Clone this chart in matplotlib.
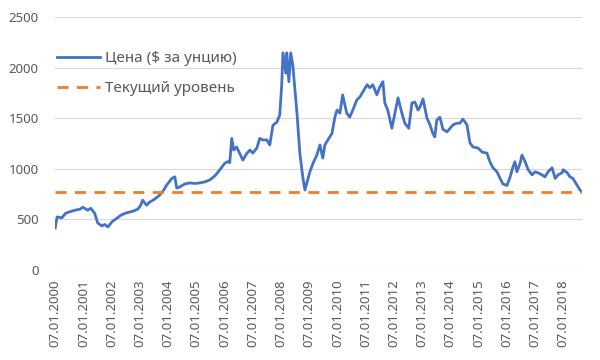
import pandas as pd
import matplotlib
matplotlib.use('Agg')
import matplotlib.pyplot as plt

plt.rcParams['font.family'] = ['Noto Sans', 'DejaVu Sans']

# price readings (approximate)
dates = [
    '2000-01-07', '2000-02-01', '2000-04-01', '2000-05-20', '2000-07-12', '2000-09-15',
    '2000-11-20', '2001-01-01', '2001-03-01', '2001-04-10', '2001-06-01', '2001-07-10',
    '2001-09-01', '2001-10-10', '2001-11-18', '2002-01-10', '2002-03-12', '2002-05-15',
    '2002-07-18', '2002-10-05', '2002-12-10', '2003-01-18', '2003-02-12', '2003-04-03',
    '2003-05-12', '2003-07-18', '2003-09-20', '2003-11-12', '2003-12-20', '2004-02-25',
    '2004-04-03', '2004-04-28', '2004-06-05', '2004-08-10', '2004-10-12', '2004-12-18',
    '2005-02-20', '2005-04-25', '2005-07-01', '2005-09-03', '2005-11-07', '2006-01-10',
    '2006-02-18', '2006-03-15', '2006-04-10', '2006-05-05', '2006-06-12', '2006-07-20',
    '2006-09-01', '2006-10-20', '2006-12-01', '2007-01-07', '2007-03-01', '2007-04-07',
    '2007-05-15', '2007-07-07', '2007-08-15', '2007-09-25', '2007-11-15', '2007-12-22',
    '2008-01-18', '2008-02-01', '2008-03-10', '2008-03-22', '2008-04-18', '2008-05-12',
    '2008-06-08', '2008-08-01', '2008-09-07', '2008-10-15', '2008-11-12', '2008-12-07',
    '2009-01-15', '2009-02-25', '2009-04-15', '2009-05-25', '2009-07-01', '2009-07-28',
    '2009-09-05', '2009-10-28', '2009-12-05', '2010-01-01', '2010-02-08', '2010-03-15',
    '2010-05-07', '2010-06-15', '2010-07-25', '2010-09-15', '2010-10-25', '2010-12-03',
    '2011-01-25', '2011-03-01', '2011-04-10', '2011-06-01', '2011-07-10', '2011-08-18',
    '2011-09-12', '2011-10-20', '2011-12-12', '2012-01-10', '2012-03-01', '2012-04-20',
    '2012-05-28', '2012-07-18', '2012-08-28', '2012-10-05', '2012-11-15', '2012-12-10',
    '2013-01-18', '2013-03-10', '2013-04-18', '2013-05-25', '2013-06-20', '2013-07-15',
    '2013-08-25', '2013-10-03', '2013-11-25', '2014-01-03', '2014-02-12', '2014-04-01',
    '2014-05-10', '2014-06-18', '2014-08-10', '2014-09-18', '2014-10-28', '2015-01-01',
    '2015-02-22', '2015-04-25', '2015-06-03', '2015-07-12', '2015-09-03', '2015-10-10',
    '2015-11-18', '2016-01-10', '2016-02-18', '2016-03-28', '2016-04-22', '2016-05-18',
    '2016-06-28', '2016-07-22', '2016-09-01', '2016-10-10', '2016-12-01', '2017-01-07',
    '2017-02-15', '2017-04-07', '2017-05-15', '2017-06-25', '2017-08-15', '2017-09-25',
    '2017-11-01', '2017-12-22', '2018-01-07', '2018-02-28', '2018-04-05', '2018-05-12',
    '2018-07-03', '2018-08-12', '2018-09-07',
]
price = [
    415, 525, 515, 560, 575, 590,
    600, 620, 590, 610, 560, 465,
    435, 450, 425, 475, 510, 545,
    565, 580, 600, 640, 690, 640,
    670, 700, 740, 790, 840, 905,
    920, 810, 820, 850, 860, 855,
    860, 870, 890, 930, 990, 1055,
    1070, 1060, 1300, 1185, 1215, 1155,
    1085, 1150, 1185, 1155, 1205, 1300,
    1285, 1285, 1235, 1430, 1460, 1530,
    1850, 2145, 1945, 2145, 1860, 2145,
    2025, 1550, 1155, 920, 790, 860,
    970, 1055, 1135, 1235, 1105, 1235,
    1285, 1350, 1510, 1580, 1550, 1730,
    1550, 1510, 1580, 1680, 1710, 1760,
    1830, 1800, 1830, 1730, 1810, 1860,
    1650, 1580, 1400, 1510, 1700, 1550,
    1450, 1400, 1650, 1660, 1580, 1610,
    1690, 1500, 1435, 1350, 1315, 1480,
    1510, 1390, 1365, 1400, 1435, 1450,
    1450, 1490, 1435, 1255, 1215, 1205,
    1165, 1155, 1070, 1010, 970, 910,
    850, 835, 915, 1020, 1070, 970,
    1055, 1135, 1070, 990, 940, 970,
    960, 940, 920, 970, 1010, 905,
    940, 960, 990, 960, 920, 905,
    840, 790, 770,
]
current_level = 775
tick_years = list(range(2000, 2019))

x = pd.to_datetime(dates)
ticks = pd.to_datetime(['%d-01-07' % y for y in tick_years])
tick_labels = ['07.01.%d' % y for y in tick_years]

fig = plt.figure(figsize=(6, 3.6), dpi=100)
ax = fig.add_axes([0.092, 0.25, 0.878, 0.703])

ax.plot(x, price, color='#4472C4', lw=2, label='Цена ($ за унцию)')
ax.axhline(current_level, color='#ED7D31', lw=2, dashes=(4, 3), label='Текущий уровень')

ax.set_xlim(x[0], x[-1])
ax.set_ylim(0, 2500)
ax.set_yticks([0, 500, 1000, 1500, 2000, 2500])
ax.set_xticks(ticks)
ax.set_xticklabels(tick_labels, rotation=90)
ax.tick_params(length=0, colors='#595959', labelsize=9.5)
ax.tick_params(axis='y', pad=12)
ax.tick_params(axis='x', pad=7)
ax.grid(axis='y', color='#d9d9d9', lw=0.8)
ax.set_axisbelow(True)
for s in ax.spines.values():
    s.set_visible(False)

leg = ax.legend(loc='upper left', bbox_to_anchor=(-0.008, 0.89), frameon=False,
                fontsize=11, handlelength=2.8, handletextpad=0.35,
                labelspacing=1.0, borderaxespad=0)
for t in leg.get_texts():
    t.set_color('#595959')

fig.savefig('out.png', dpi=100)
